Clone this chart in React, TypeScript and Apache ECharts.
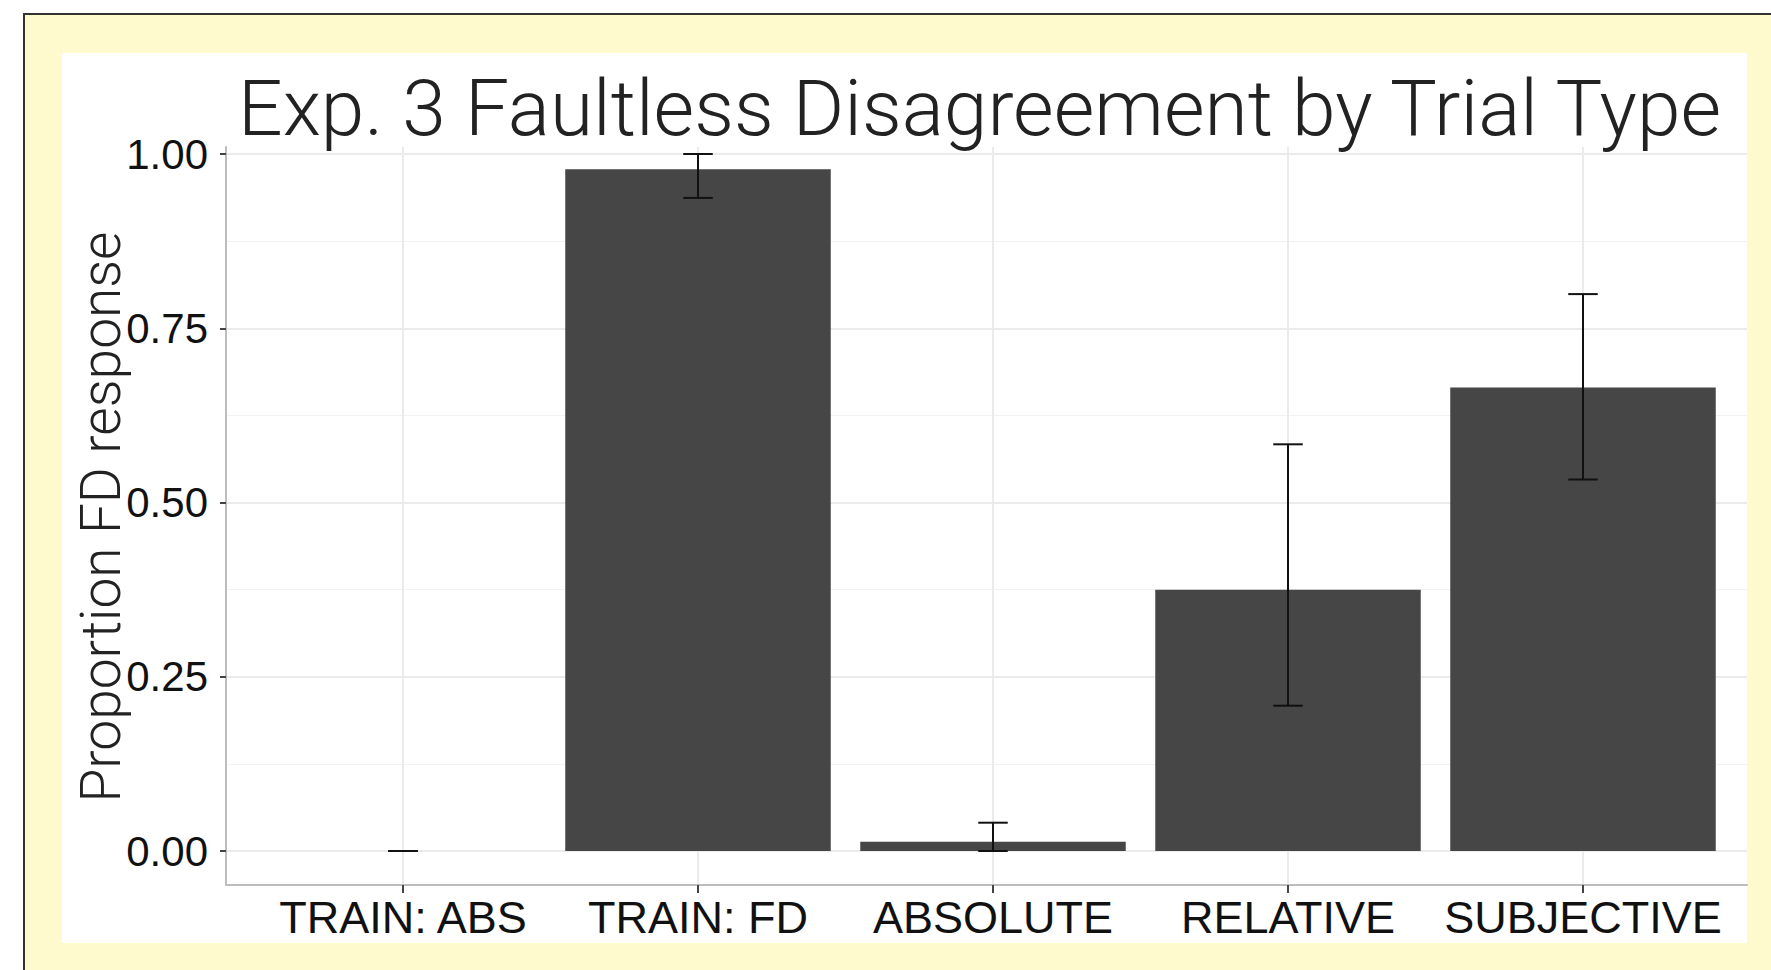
import React, { useEffect, useRef } from "react";
import * as echarts from "echarts";

// ---- data ----
const categories = ["TRAIN: ABS", "TRAIN: FD", "ABSOLUTE", "RELATIVE", "SUBJECTIVE"];
const means = [0, 0.978, 0.0133, 0.375, 0.665];
const lowers = [0, 0.937, 0, 0.2085, 0.533];
const uppers = [0, 1.0, 0.0406, 0.5835, 0.799];
const yTicks = [0, 0.25, 0.5, 0.75, 1.0];
const yMinorTicks = [0.125, 0.375, 0.625, 0.875];
const titleText = "Exp. 3 Faultless Disagreement by Trial Type";
const yAxisTitle = "Proportion FD response";

// ---- layout ----
const W = 1771;
const H = 970;
const plotLeft = 226;
const plotRight = 1747;
const plotTop = 147;
const plotBottom = 885;
const unitX = 295;
const zeroY = 851;
const unitY = 697;
const xMin = 0.4;
const xMax = xMin + (plotRight - plotLeft) / unitX;
const yMin = -(plotBottom - zeroY) / unitY;
const yMax = (zeroY - plotTop) / unitY;

const barColor = "#464646";
const lightFont = "Roboto";
const axisFont = "'Liberation Sans', Arial, Helvetica, sans-serif";

export default function App() {
  const ref = useRef<HTMLDivElement>(null);

  useEffect(() => {
    if (!ref.current) return;
    const chart = echarts.init(ref.current, null, { renderer: "svg" });
    const xPositions = categories.map((_, i) => i + 1);

    chart.setOption({
      animation: false,
      backgroundColor: "transparent",
      grid: {
        left: plotLeft,
        right: W - plotRight,
        top: plotTop,
        bottom: H - plotBottom,
        containLabel: false,
      },
      xAxis: {
        type: "value",
        min: xMin,
        max: xMax,
        position: "bottom",
        axisLine: { show: true, onZero: false, lineStyle: { color: "#bdbdbd", width: 2 } },
        axisTick: {
          show: true,
          customValues: xPositions,
          length: 8,
          lineStyle: { color: "#444", width: 2 },
        },
        axisLabel: {
          show: true,
          customValues: xPositions,
          formatter: (v: number) => categories[Math.round(v) - 1] ?? "",
          fontSize: 45,
          fontFamily: axisFont,
          color: "#111",
          margin: 10,
        },
        splitLine: { show: true, lineStyle: { color: "#ebebeb", width: 2 } },
      },
      yAxis: [
        {
          type: "value",
          min: yMin,
          max: yMax,
          position: "left",
          axisLine: { show: true, onZero: false, lineStyle: { color: "#bdbdbd", width: 2 } },
          axisTick: {
            show: true,
            customValues: yTicks,
            length: 6,
            lineStyle: { color: "#444", width: 2 },
          },
          axisLabel: {
            show: true,
            customValues: yTicks,
            formatter: (v: number) => v.toFixed(2),
            fontSize: 42,
            fontFamily: axisFont,
            color: "#111",
            margin: 18,
          },
          splitLine: { show: true, lineStyle: { color: "#ebebeb", width: 2 } },
        },
        {
          type: "value",
          min: yMin,
          max: yMax,
          position: "left",
          axisLine: { show: false },
          axisTick: { show: false, customValues: yMinorTicks },
          axisLabel: { show: false, customValues: yMinorTicks },
          splitLine: { show: true, lineStyle: { color: "#f2f2f2", width: 1 } },
        },
      ],
      graphic: [
        {
          type: "text",
          left: 238,
          top: 68,
          style: {
            text: titleText,
            fontSize: 78.5,
            fontFamily: lightFont,
            fontWeight: 300,
            fill: "#222",
          },
          z: 100,
        },
        {
          type: "text",
          x: 101,
          y: 517,
          rotation: Math.PI / 2,
          style: {
            text: yAxisTitle,
            fontSize: 55,
            fontFamily: lightFont,
            fontWeight: 300,
            fill: "#222",
            align: "center",
            verticalAlign: "middle",
          },
          z: 100,
        },
      ],
      series: [
        {
          type: "custom",
          name: "mean",
          xAxisIndex: 0,
          yAxisIndex: 0,
          data: means.map((m, i) => [i + 1, m]),
          renderItem: (params: any, api: any) => {
            const x = api.value(0);
            const v = api.value(1);
            const p1 = api.coord([x - 0.45, v]);
            const p2 = api.coord([x + 0.45, 0]);
            return {
              type: "rect",
              shape: { x: p1[0], y: p1[1], width: p2[0] - p1[0], height: p2[1] - p1[1] },
              style: { fill: barColor },
            };
          },
          z: 3,
        },
        {
          type: "custom",
          name: "error",
          xAxisIndex: 0,
          yAxisIndex: 0,
          data: categories.map((_, i) => [i + 1, lowers[i], uppers[i]]),
          renderItem: (params: any, api: any) => {
            const x = api.value(0);
            const lo = api.value(1);
            const hi = api.value(2);
            const top = api.coord([x, hi]);
            const bot = api.coord([x, lo]);
            const capL = api.coord([x - 0.05, hi]);
            const capR = api.coord([x + 0.05, hi]);
            const capL2 = api.coord([x - 0.05, lo]);
            const capR2 = api.coord([x + 0.05, lo]);
            const st = { stroke: "#111", lineWidth: 2 };
            return {
              type: "group",
              children: [
                { type: "line", shape: { x1: top[0], y1: top[1], x2: bot[0], y2: bot[1] }, style: st },
                { type: "line", shape: { x1: capL[0], y1: capL[1], x2: capR[0], y2: capR[1] }, style: st },
                { type: "line", shape: { x1: capL2[0], y1: capL2[1], x2: capR2[0], y2: capR2[1] }, style: st },
              ],
            };
          },
          z: 4,
        },
      ],
    });

    return () => chart.dispose();
  }, []);

  return (
    <div style={{ position: "fixed", left: 0, top: 0, width: W, height: H, background: "#ffffff", overflow: "hidden" }}>
      <div
        style={{
          position: "absolute",
          left: 23,
          top: 13,
          width: W - 23,
          height: H - 13,
          boxSizing: "border-box",
          borderLeft: "2px solid #333",
          borderTop: "2px solid #333",
          background: "#FFF9CE",
        }}
      />
      <div
        style={{
          position: "absolute",
          left: 62,
          top: 53,
          width: 1747 - 62,
          height: 943 - 53,
          background: "#ffffff",
        }}
      />
      <div ref={ref} style={{ position: "absolute", left: 0, top: 0, width: W, height: H }} />
    </div>
  );
}
